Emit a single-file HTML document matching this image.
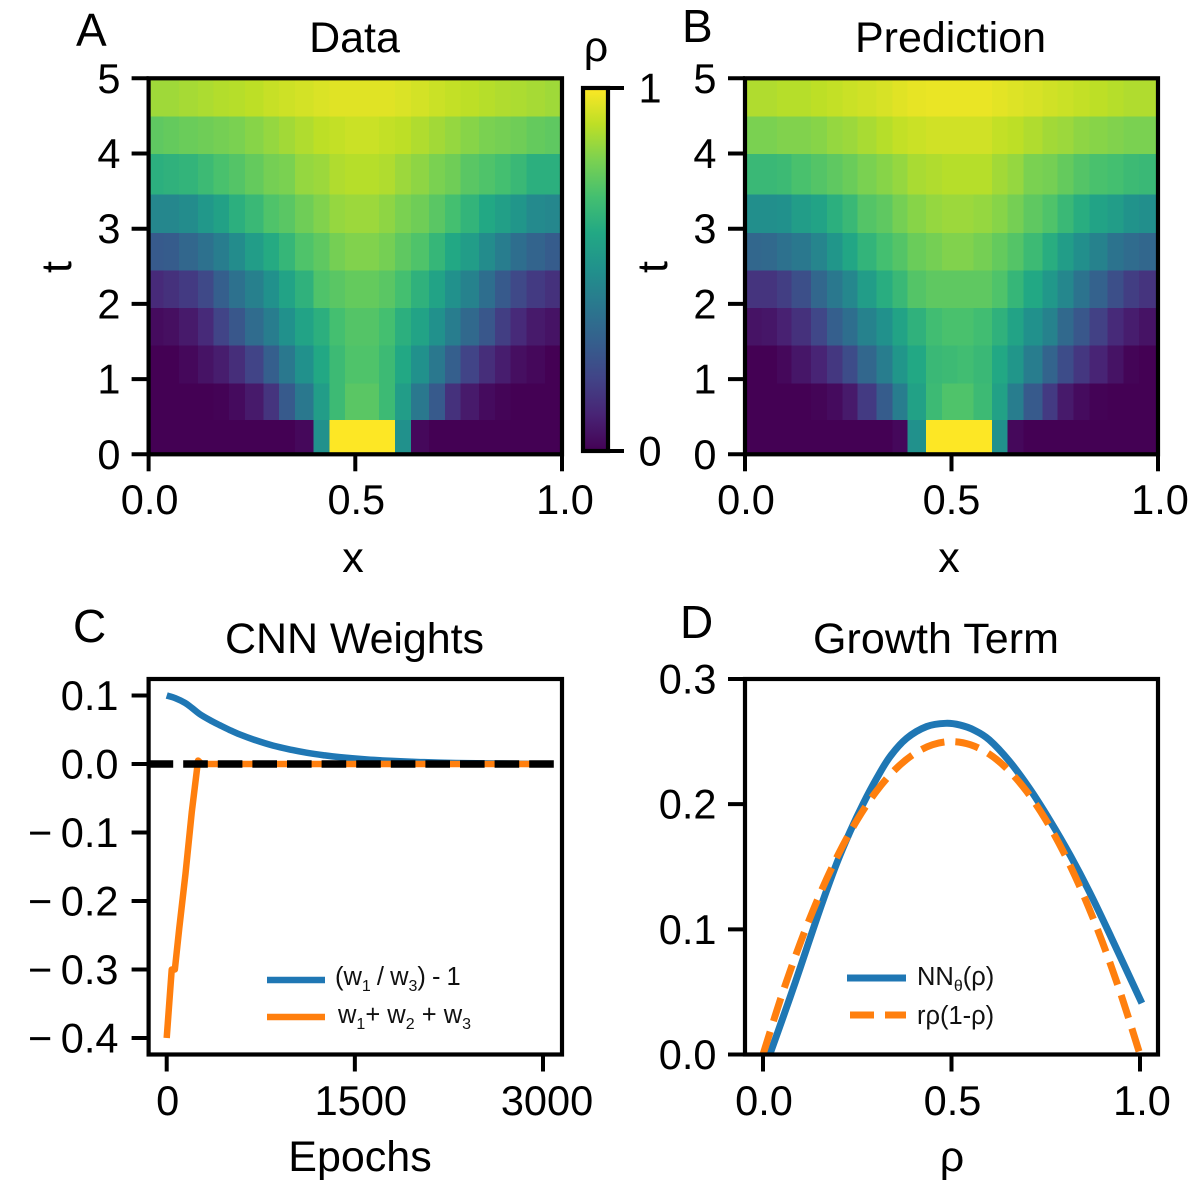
<!DOCTYPE html>
<html lang="en">
<head>
<meta charset="utf-8">
<title>Data, prediction, CNN weights and growth term</title>
<style>
html,body{margin:0;padding:0;background:#fff;}
svg{display:block;}
text{font-family:"Liberation Sans",Arial,sans-serif;fill:#000;}
.tick{font-size:41.5px;word-spacing:-3px;}
.label{font-size:43px;}
.title{font-size:43px;}
.letter{font-size:46px;}
.legend{font-size:25.5px;fill:#111;}
.sub{font-size:16px;}
</style>
</head>
<body>
<svg id="figure" xmlns="http://www.w3.org/2000/svg" width="1188" height="1200" viewBox="0 0 1188 1200">
  <defs>
    <clipPath id="clip-c"><rect x="148.6" y="679" width="413.4" height="375.5"/></clipPath>
    <clipPath id="clip-d"><rect x="745" y="679" width="413" height="375.5"/></clipPath>
    <linearGradient id="viridis-gradient" x1="0" y1="1" x2="0" y2="0"></linearGradient>
  </defs>
  <g id="layer-heat"></g>
  <g id="layer-lines"></g>
  <g id="layer-axes"></g>

  <text class="letter" x="76" y="46">A</text>
  <text class="letter" x="682" y="42">B</text>
  <text class="letter" x="73" y="642">C</text>
  <text class="letter" x="680" y="638">D</text>

  <text class="title" x="354.5" y="52" text-anchor="middle">Data</text>
  <text class="title" x="950.5" y="52" text-anchor="middle" textLength="191" lengthAdjust="spacing">Prediction</text>
  <text class="title" x="354.5" y="653" text-anchor="middle" textLength="259" lengthAdjust="spacing">CNN Weights</text>
  <text class="title" x="936" y="653" text-anchor="middle" textLength="246" lengthAdjust="spacing">Growth Term</text>

  <text class="label" x="353" y="572" text-anchor="middle">x</text>
  <text class="label" x="949" y="572" text-anchor="middle">x</text>
  <text class="label" x="360" y="1171" text-anchor="middle">Epochs</text>
  <text class="label" x="952" y="1171" text-anchor="middle">ρ</text>
  <text class="label" transform="translate(71,267) rotate(-90)" text-anchor="middle">t</text>
  <text class="label" transform="translate(667,267) rotate(-90)" text-anchor="middle">t</text>
  <text class="label" x="596" y="61" text-anchor="middle">ρ</text>

  <g>
    <line x1="267" y1="980" x2="325" y2="980" stroke="#1f77b4" stroke-width="6.5"/>
    <line x1="267" y1="1017" x2="325" y2="1017" stroke="#ff7f0e" stroke-width="6.5"/>
    <text class="legend" x="335" y="985" word-spacing="-1">(w<tspan class="sub" dy="6">1</tspan><tspan dy="-6"> / w</tspan><tspan class="sub" dy="6">3</tspan><tspan dy="-6">) - 1</tspan></text>
    <text class="legend" x="338" y="1023">w<tspan class="sub" dy="6">1</tspan><tspan dy="-6">+ w</tspan><tspan class="sub" dy="6">2</tspan><tspan dy="-6"> + w</tspan><tspan class="sub" dy="6">3</tspan></text>
  </g>
  <g>
    <line x1="847" y1="978" x2="906" y2="978" stroke="#1f77b4" stroke-width="7"/>
    <line x1="850" y1="1015" x2="906" y2="1015" stroke="#ff7f0e" stroke-width="7" stroke-dasharray="24 11"/>
    <text class="legend" x="917" y="985">NN<tspan class="sub" dy="6">θ</tspan><tspan dy="-6">(ρ)</tspan></text>
    <text class="legend" x="917" y="1024">rρ(1-ρ)</text>
  </g>
</svg>
<script>
// ----- Heatmap bin edges and values (row 0 is t≈0) -----
const tEdges = [0,0.46,0.95,1.45,1.95,2.45,2.95,3.46,4,4.5,5];
const xEdgesData = [0,0.036,0.074,0.119,0.157,0.194,0.233,0.278,0.316,0.354,0.399,0.437,0.475,0.516,0.557,0.596,0.635,0.678,0.717,0.755,0.799,0.838,0.876,0.914,0.959,1];
const xEdgesPrediction = [0,0.04,0.077,0.113,0.16,0.198,0.236,0.273,0.319,0.357,0.394,0.438,0.477,0.515,0.553,0.598,0.636,0.674,0.72,0.757,0.795,0.834,0.878,0.916,0.954,1];
const rhoData = [
[0,0,0,0,0,0,0,0,0,0.02,0.5,1,1,1,1,0.5,0.02,0,0,0,0,0,0,0,0],
[0,0,0,0,0.005,0.03,0.07,0.15,0.28,0.4,0.55,0.68,0.74,0.74,0.68,0.55,0.4,0.28,0.14,0.07,0.03,0.01,0,0,0],
[0,0,0.02,0.05,0.08,0.13,0.2,0.3,0.4,0.5,0.6,0.68,0.72,0.72,0.68,0.6,0.5,0.4,0.3,0.2,0.13,0.08,0.04,0.02,0],
[0.03,0.04,0.07,0.12,0.2,0.27,0.35,0.42,0.5,0.58,0.63,0.7,0.73,0.73,0.7,0.63,0.58,0.5,0.42,0.34,0.27,0.18,0.12,0.07,0.05],
[0.12,0.14,0.17,0.22,0.3,0.37,0.43,0.5,0.58,0.64,0.72,0.74,0.76,0.76,0.74,0.7,0.64,0.58,0.5,0.44,0.36,0.28,0.22,0.17,0.14],
[0.28,0.29,0.33,0.37,0.42,0.48,0.55,0.61,0.66,0.72,0.75,0.79,0.81,0.81,0.79,0.75,0.72,0.66,0.6,0.55,0.48,0.42,0.36,0.32,0.29],
[0.46,0.46,0.48,0.53,0.57,0.63,0.67,0.72,0.74,0.78,0.81,0.84,0.85,0.85,0.83,0.8,0.78,0.74,0.7,0.65,0.6,0.56,0.52,0.47,0.46],
[0.63,0.64,0.65,0.68,0.71,0.73,0.76,0.79,0.8,0.84,0.85,0.88,0.89,0.89,0.88,0.85,0.83,0.8,0.78,0.74,0.72,0.7,0.67,0.63,0.63],
[0.75,0.76,0.77,0.78,0.79,0.8,0.82,0.84,0.86,0.88,0.9,0.91,0.92,0.92,0.91,0.9,0.88,0.86,0.84,0.82,0.8,0.79,0.78,0.76,0.75],
[0.855,0.855,0.865,0.875,0.885,0.89,0.9,0.915,0.925,0.935,0.945,0.955,0.955,0.955,0.955,0.945,0.935,0.92,0.91,0.9,0.89,0.88,0.875,0.865,0.855]
];
const rhoPrediction = [
[0,0,0,0,0,0,0,0,0,0.02,0.5,1,1,1,1,0.5,0.02,0,0,0,0,0,0,0,0],
[0,0,0,0,0.01,0.03,0.07,0.17,0.29,0.42,0.57,0.68,0.72,0.72,0.68,0.57,0.42,0.28,0.17,0.07,0.03,0.005,0,0,0],
[0,0,0.02,0.06,0.1,0.16,0.23,0.33,0.42,0.52,0.6,0.67,0.68,0.69,0.67,0.6,0.52,0.42,0.32,0.23,0.16,0.1,0.05,0.01,0],
[0.05,0.06,0.09,0.14,0.21,0.3,0.36,0.44,0.5,0.58,0.64,0.69,0.71,0.71,0.69,0.64,0.58,0.5,0.44,0.34,0.27,0.19,0.12,0.08,0.05],
[0.15,0.15,0.18,0.24,0.33,0.4,0.46,0.55,0.62,0.67,0.73,0.75,0.75,0.75,0.75,0.72,0.66,0.6,0.53,0.46,0.38,0.31,0.24,0.18,0.15],
[0.33,0.34,0.37,0.4,0.45,0.52,0.59,0.65,0.7,0.73,0.77,0.79,0.81,0.81,0.79,0.76,0.73,0.68,0.62,0.55,0.49,0.44,0.38,0.35,0.33],
[0.49,0.49,0.5,0.55,0.58,0.63,0.67,0.73,0.75,0.79,0.82,0.84,0.85,0.85,0.84,0.82,0.79,0.75,0.72,0.67,0.62,0.58,0.55,0.51,0.49],
[0.67,0.67,0.68,0.71,0.73,0.75,0.77,0.8,0.82,0.84,0.87,0.88,0.89,0.89,0.89,0.86,0.84,0.8,0.79,0.76,0.73,0.71,0.7,0.68,0.67],
[0.8,0.8,0.81,0.81,0.82,0.84,0.85,0.87,0.89,0.91,0.92,0.93,0.93,0.93,0.93,0.91,0.9,0.88,0.86,0.85,0.83,0.82,0.81,0.8,0.8],
[0.88,0.88,0.89,0.89,0.9,0.91,0.92,0.93,0.94,0.955,0.965,0.97,0.97,0.97,0.97,0.96,0.95,0.94,0.93,0.92,0.91,0.9,0.89,0.88,0.88]
];
const viridisStops = ["#440154","#482475","#414487","#355f8d","#2a788e","#21918c","#22a884","#44bf70","#7ad151","#bddf26","#fde725"];

// ----- Panel C: epochs and weights -----
const ratioEpochs = [0,70,147,200,266,350,425,500,584,700,849,1000,1114,1250,1379,1600,1800,2000,2300,3000];
const ratioValues = [0.1,0.096,0.0892,0.082,0.0725,0.0635,0.0565,0.0498,0.043,0.0352,0.0268,0.0205,0.0165,0.0128,0.01,0.0066,0.0045,0.003,0.0015,0];
const sumEpochs = [0,40,65,100,150,200,250,280,3000];
const sumValues = [-0.4,-0.3,-0.3,-0.24,-0.16,-0.07,0.005,0,0];
const referenceLevel = 0;

// ----- Panel D: growth curves -----
const networkRho = [0.018,0.05,0.086,0.12,0.158,0.1955,0.2308,0.266,0.3015,0.337,0.381,0.434,0.485,0.523,0.56,0.6,0.653,0.707,0.761,0.815,0.869,0.923,1.005];
const networkGrowth = [0,0.027,0.058,0.0885,0.122,0.1527,0.178,0.2005,0.2206,0.238,0.2526,0.262,0.2646,0.2632,0.2592,0.2515,0.2345,0.2125,0.187,0.159,0.128,0.094,0.041];
const logisticRho = [0,0.05,0.1,0.15,0.2,0.25,0.3,0.35,0.4,0.45,0.5,0.55,0.6,0.65,0.7,0.75,0.8,0.85,0.9,0.95,1];
const logisticGrowth = [0,0.0475,0.09,0.1275,0.16,0.1875,0.21,0.2275,0.24,0.2475,0.25,0.2475,0.24,0.2275,0.21,0.1875,0.16,0.1275,0.09,0.0475,0];

// ----- Tick labels -----
const heatXTicks = [0,0.5,1];
const heatXTickLabels = ["0.0","0.5","1.0"];
const heatYTicks = [0,1,2,3,4,5];
const heatYTickLabels = ["0","1","2","3","4","5"];
const colorbarTicks = [0,1];
const colorbarTickLabels = ["0","1"];
const epochTicks = [0,1500,3000];
const epochTickLabels = ["0","1500","3000"];
const weightTicks = [0.1,0,-0.1,-0.2,-0.3,-0.4];
const weightTickLabels = ["0.1","0.0","− 0.1","− 0.2","− 0.3","− 0.4"];
const rhoTicks = [0,0.5,1];
const rhoTickLabels = ["0.0","0.5","1.0"];
const growthTicks = [0,0.1,0.2,0.3];
const growthTickLabels = ["0.0","0.1","0.2","0.3"];

const NS = "http://www.w3.org/2000/svg";
function scale(d0, d1, r0, r1) { return v => r0 + (v - d0) * (r1 - r0) / (d1 - d0); }
function make(parent, tag, attrs) {
  const el = document.createElementNS(NS, tag);
  for (const k in attrs) el.setAttribute(k, attrs[k]);
  parent.appendChild(el);
  return el;
}
function viridis(v) {
  const t = Math.max(0, Math.min(1, v)) * (viridisStops.length - 1);
  const i = Math.min(Math.floor(t), viridisStops.length - 2);
  const f = t - i;
  const a = viridisStops[i], b = viridisStops[i + 1];
  const ch = [1, 3, 5].map(p => Math.round(parseInt(a.substr(p, 2), 16) * (1 - f) + parseInt(b.substr(p, 2), 16) * f));
  return "rgb(" + ch.join(",") + ")";
}
const heatLayer = document.getElementById("layer-heat");
const lineLayer = document.getElementById("layer-lines");
const axesLayer = document.getElementById("layer-axes");

const xA = scale(0, 1, 148.6, 562);
const xB = scale(0, 1, 745, 1158);
const yT = scale(0, 5, 454.3, 78.3);
const xC = scale(0, 3000, 166.7, 543);
const yC = scale(0, 0.1, 764, 695.5);
const xD = scale(0, 1, 763, 1140);
const yD = scale(0, 0.3, 1054.5, 679);
const yBar = scale(0, 1, 451, 88);

function drawHeat(values, edges, xs, prefix) {
  const g = make(heatLayer, "g", {});
  
  
  values.forEach((row, r) => {
    row.forEach((v, c) => {
      const x0 = xs(edges[c]), x1 = xs(edges[c + 1]), y0 = yT(tEdges[r + 1]), y1 = yT(tEdges[r]);
      const cell = make(g, "rect", { x: x0, y: y0, width: x1 - x0 + 0.4, height: y1 - y0 + 0.4, fill: viridis(v), "shape-rendering": "crispEdges" });
      
      
    });
  });
}
drawHeat(rhoData, xEdgesData, xA, "data");
drawHeat(rhoPrediction, xEdgesPrediction, xB, "prediction");

function drawFrame(x0, x1, y0, y1, prefix) {
  const f = make(axesLayer, "rect", { x: x0, y: y0, width: x1 - x0, height: y1 - y0, fill: "none", stroke: "#000", "stroke-width": 4.2 });
  
  
}
function drawXTicks(ticks, labels, xs, yBase, labelY, nudge, prefix) {
  ticks.forEach((t, i) => {
    const l = make(axesLayer, "line", { x1: xs(t), x2: xs(t), y1: yBase, y2: yBase + 17, stroke: "#000", "stroke-width": 4 });
    
    
    const tx = make(axesLayer, "text", { x: xs(t) + nudge[i], y: labelY, "text-anchor": "middle", "class": "tick" });
    tx.textContent = labels[i];
    
    
  });
}
function drawYTicks(ticks, labels, ys, xBase, labelX, prefix) {
  ticks.forEach((t, i) => {
    const l = make(axesLayer, "line", { x1: xBase - 17, x2: xBase, y1: ys(t), y2: ys(t), stroke: "#000", "stroke-width": 4 });
    
    
    const tx = make(axesLayer, "text", { x: labelX, y: ys(t) + 14.5, "text-anchor": "end", "class": "tick" });
    tx.textContent = labels[i];
    
    
  });
}
function linePath(pts) {
  return pts.map((p, i) => (i ? "L" : "M") + p[0].toFixed(2) + " " + p[1].toFixed(2)).join(" ");
}
function smoothPath(pts) {
  let d = "M" + pts[0][0].toFixed(2) + " " + pts[0][1].toFixed(2);
  for (let i = 0; i < pts.length - 1; i++) {
    const p0 = pts[Math.max(i - 1, 0)], p1 = pts[i], p2 = pts[i + 1], p3 = pts[Math.min(i + 2, pts.length - 1)];
    const c1x = p1[0] + (p2[0] - p0[0]) / 6, c1y = p1[1] + (p2[1] - p0[1]) / 6;
    const c2x = p2[0] - (p3[0] - p1[0]) / 6, c2y = p2[1] - (p3[1] - p1[1]) / 6;
    d += " C" + c1x.toFixed(2) + " " + c1y.toFixed(2) + " " + c2x.toFixed(2) + " " + c2y.toFixed(2) + " " + p2[0].toFixed(2) + " " + p2[1].toFixed(2);
  }
  return d;
}
function drawLine(xv, yv, xs, ys, color, width, clip, dash, smooth, name) {
  const pts = xv.map((v, i) => [xs(v), ys(yv[i])]);
  const attrs = { d: smooth ? smoothPath(pts) : linePath(pts), fill: "none", stroke: color, "stroke-width": width, "stroke-linejoin": "round", "clip-path": "url(#" + clip + ")" };
  if (dash) attrs["stroke-dasharray"] = dash;
  const p = make(lineLayer, "path", attrs);
  
  
}

// Panels A and B axes
drawFrame(148.6, 562, 78.3, 454.3, "data");
drawXTicks(heatXTicks, heatXTickLabels, xA, 454.3, 514, [1, 1, 3], "data");
drawYTicks(heatYTicks, heatYTickLabels, yT, 148.6, 120.5, "data");
drawFrame(745, 1158, 78.3, 454.3, "prediction");
drawXTicks(heatXTicks, heatXTickLabels, xB, 454.3, 514, [1, 0, 2], "prediction");
drawYTicks(heatYTicks, heatYTickLabels, yT, 745, 716.5, "prediction");

// Colorbar
const gradient = document.getElementById("viridis-gradient");
viridisStops.forEach((c, i) => {
  make(gradient, "stop", { offset: i / (viridisStops.length - 1), "stop-color": c });
});
const barFill = make(axesLayer, "rect", { x: 583, y: 88, width: 25, height: 363, fill: "url(#viridis-gradient)", stroke: "#000", "stroke-width": 4.2 });


colorbarTicks.forEach((t, i) => {
  const l = make(axesLayer, "line", { x1: 608, x2: 624, y1: yBar(t), y2: yBar(t), stroke: "#000", "stroke-width": 4 });
  
  
  const tx = make(axesLayer, "text", { x: 650, y: yBar(t) + 14.5, "text-anchor": "middle", "class": "tick" });
  tx.textContent = colorbarTickLabels[i];
  
  
});

// Panel C
drawLine(ratioEpochs, ratioValues, xC, yC, "#1f77b4", 6.5, "clip-c", null, true, "series-weight-ratio");
drawLine(sumEpochs, sumValues, xC, yC, "#ff7f0e", 6.5, "clip-c", null, false, "series-weight-sum");
const refLine = make(lineLayer, "line", { x1: 148.6, x2: 562, y1: yC(referenceLevel), y2: yC(referenceLevel), stroke: "#000", "stroke-width": 7.5, "stroke-dasharray": "24.6 10" });


drawFrame(148.6, 562, 679, 1054.5, "weights");
drawXTicks(epochTicks, epochTickLabels, xC, 1054.5, 1115, [1, 6, 4], "weights");
drawYTicks(weightTicks, weightTickLabels, yC, 148.6, 118.5, "weights");

// Panel D
drawLine(networkRho, networkGrowth, xD, yD, "#1f77b4", 7, "clip-d", null, true, "series-network-growth");
drawLine(logisticRho, logisticGrowth, xD, yD, "#ff7f0e", 7, "clip-d", "24 11", true, "series-logistic-growth");
drawFrame(745, 1158, 679, 1054.5, "growth");
drawXTicks(rhoTicks, rhoTickLabels, xD, 1054.5, 1115, [1, 1, 2], "growth");
drawYTicks(growthTicks, growthTickLabels, yD, 745, 716.5, "growth");
</script>
</body>
</html>
